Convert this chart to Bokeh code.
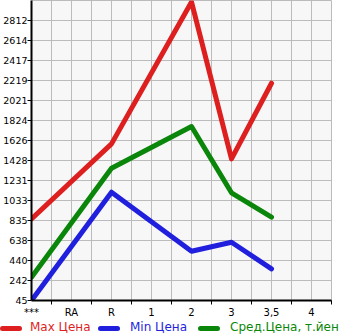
from bokeh.plotting import figure
from bokeh.models import FixedTicker, Range1d, Div
from bokeh.layouts import column
from bokeh.embed import file_html
from bokeh.resources import INLINE

categories = ["***", "RA", "R", "1", "2", "3", "3,5", "4"]
x_pos = [0, 2, 4, 5, 6]  # indices into categories: ***, R, 2, 3, 3,5
max_price = [852, 1593, 2995, 1445, 2192]
min_price = [45, 1115, 532, 621, 358]
avg_price = [275, 1352, 1764, 1109, 868]
y_tick_values = [45, 242.64, 440.29, 637.93, 835.57, 1033.21, 1230.86, 1428.5,
                 1626.14, 1823.79, 2021.43, 2219.07, 2416.71, 2614.36, 2812.0]
y_tick_labels = ["45", "242", "440", "638", "835", "1033", "1231", "1428",
                 "1626", "1824", "2021", "2219", "2417", "2614", "2812"]
y_top = 3009.64
series_names = ["Max Цена", "Min Цена", "Сред.Цена, т.йен"]
colors = ["#dd1f1f", "#1f1fdd", "#0a860a"]

p = figure(frame_width=300, frame_height=300, output_backend="svg", toolbar_location=None,
           x_range=Range1d(0, len(categories) - 0.5), y_range=Range1d(y_tick_values[0], y_top),
           min_border_left=30, min_border_right=15, min_border_top=0, min_border_bottom=18)
p.background_fill_color = "#f7f7f7"
p.border_fill_color = "white"
p.outline_line_color = "#bbbbbb"
p.outline_line_width = 1

# x axis
xt = list(range(len(categories)))
p.xaxis.ticker = FixedTicker(ticks=xt, minor_ticks=[i + 0.5 for i in xt])
p.xaxis.major_label_overrides = {i: c for i, c in enumerate(categories)}
p.xaxis.major_tick_line_color = None
p.xaxis.major_tick_out = 0
p.xaxis.major_tick_in = 0
p.xaxis.minor_tick_out = 4
p.xaxis.minor_tick_in = 0
p.xaxis.minor_tick_line_color = "black"
p.xaxis.major_label_standoff = 2
p.xaxis.axis_line_width = 2
p.xaxis.axis_line_color = "black"
p.xaxis.major_label_text_font_size = "10px"

# y axis
p.yaxis.ticker = FixedTicker(ticks=y_tick_values, minor_ticks=[])
p.yaxis.major_label_overrides = {v: l for v, l in zip(y_tick_values, y_tick_labels)}
p.yaxis.major_tick_out = 4
p.yaxis.major_tick_in = 0
p.yaxis.major_label_standoff = 0
p.yaxis.axis_line_width = 2
p.yaxis.axis_line_color = "black"
p.yaxis.major_label_text_font_size = "9.5px"

for ax in (p.xaxis, p.yaxis):
    ax.major_label_text_font = "DejaVu Sans"
    ax.major_label_text_color = "black"

p.xgrid.grid_line_color = "#bcbcbc"
p.xgrid.minor_grid_line_color = "#bcbcbc"
p.ygrid.grid_line_color = "#bcbcbc"
p.grid.grid_line_width = 1

for vals, col in zip([max_price, min_price, avg_price], colors):
    p.line(x_pos, vals, line_color=col, line_width=5, line_cap="round", line_join="round")

# legend strip below the chart
legend_line_left = [0, 98, 198]
legend_text_left = [30, 130, 230]
parts = []
for name, col, lx, tx in zip(series_names, colors, legend_line_left, legend_text_left):
    parts.append(
        f'<span style="position:absolute;left:{lx}px;top:6px;width:22px;height:5px;'
        f'border-radius:3px;background:{col}"></span>'
        f'<span style="position:absolute;left:{tx}px;top:0px;line-height:15px;color:{col}">{name}</span>'
    )
html = ('<div style="position:relative;width:345px;height:15px;overflow:hidden;'
        'font-family:\'DejaVu Sans\';font-size:12px;white-space:nowrap">' + "".join(parts) + "</div>")
legend_div = Div(text=html, width=345, height=15, margin=(0, 0, 0, 0))

open("out.html", "w").write(file_html(column(p, legend_div, spacing=0), INLINE))
